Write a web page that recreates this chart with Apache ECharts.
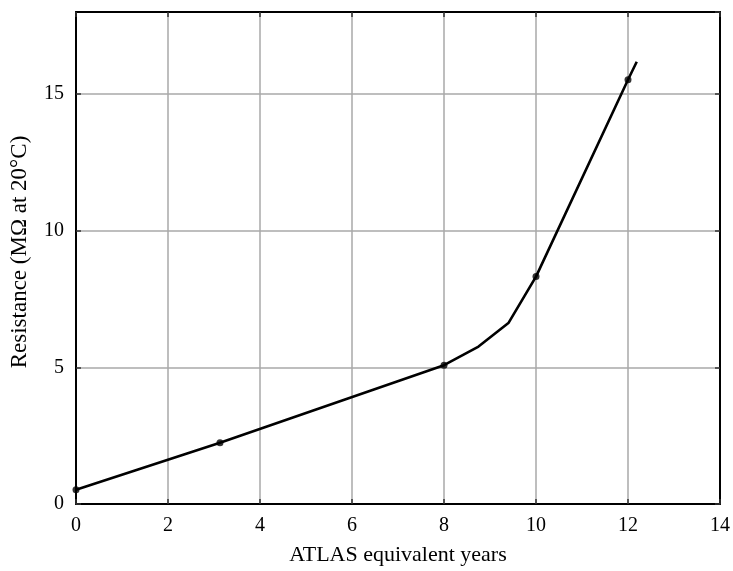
<!DOCTYPE html>
<html>
<head>
<meta charset="utf-8">
<script src="https://cdn.jsdelivr.net/npm/echarts@6/dist/echarts.min.js"></script>
<style>
  html, body { margin: 0; padding: 0; background: #fff; }
  #chart { width: 733px; height: 571px; }
</style>
</head>
<body>
<div id="chart"></div>
<script>
// Resistance curve (MΩ at 20°C) against ATLAS equivalent years
const curveYears = [0, 3.13, 8, 8.75, 9.4, 10, 12, 12.19];
const curveResistance = [0.52, 2.24, 5.08, 5.76, 6.62, 8.32, 15.52, 16.18];

// Measured points shown as dots
const pointYears = [0, 3.13, 8, 10, 12];
const pointResistance = [0.52, 2.24, 5.08, 8.32, 15.52];

const xTicks = [0, 2, 4, 6, 8, 10, 12, 14];
const yTicks = [0, 5, 10, 15];

const serif = '"Liberation Serif", "DejaVu Serif", serif';

const chart = echarts.init(document.getElementById('chart'), null, { renderer: 'canvas' });

// Top and right axes only close the frame and carry inward ticks
const frameAxis = {
  axisLine: { show: true, onZero: false, lineStyle: { color: '#000', width: 2 } },
  axisTick: { show: true, inside: true, length: 5, lineStyle: { color: '#333', width: 1.5 } },
  splitLine: { show: false },
  axisLabel: { show: false }
};

chart.setOption({
  animation: false,
  backgroundColor: '#fff',
  grid: { left: 76, right: 13, top: 12, bottom: 63, containLabel: false },
  xAxis: [
    {
      type: 'value', position: 'bottom', min: 0, max: 14, interval: 2,
      name: 'ATLAS equivalent years', nameLocation: 'middle', nameGap: 40,
      nameTextStyle: { fontFamily: serif, fontSize: 22, color: '#000' },
      axisLine: { show: true, onZero: false, lineStyle: { color: '#000', width: 2 } },
      axisTick: { show: true, inside: true, length: 5, lineStyle: { color: '#333', width: 1.5 } },
      splitLine: { show: true, lineStyle: { color: '#a8a8a8', width: 1.5 } },
      axisLabel: {
        margin: 12, fontFamily: serif, fontSize: 20, color: '#000',
        formatter: v => xTicks.includes(v) ? String(v) : ''
      }
    },
    Object.assign({ type: 'value', position: 'top', min: 0, max: 14, interval: 2 }, frameAxis)
  ],
  yAxis: [
    {
      type: 'value', position: 'left', min: 0, max: 18, interval: 5,
      name: 'Resistance (MΩ at 20°C)', nameLocation: 'middle', nameGap: 45, nameRotate: 90,
      nameTextStyle: { fontFamily: serif, fontSize: 23, color: '#000', padding: [0, 0, 0, 12] },
      axisLine: { show: true, onZero: false, lineStyle: { color: '#000', width: 2 } },
      axisTick: { show: true, inside: true, length: 5, lineStyle: { color: '#333', width: 1.5 } },
      splitLine: { show: true, lineStyle: { color: '#a8a8a8', width: 1.5 } },
      axisLabel: {
        margin: 12, fontFamily: serif, fontSize: 20, color: '#000',
        showMaxLabel: false,
        formatter: v => yTicks.includes(v) ? String(v) : ''
      }
    },
    Object.assign({ type: 'value', position: 'right', min: 0, max: 18, interval: 5 }, frameAxis)
  ],
  series: [
    {
      type: 'line',
      data: curveYears.map((x, i) => [x, curveResistance[i]]),
      showSymbol: false,
      lineStyle: { color: '#000', width: 2.6 },
      z: 3
    },
    {
      type: 'scatter',
      data: pointYears.map((x, i) => [x, pointResistance[i]]),
      symbol: 'circle',
      symbolSize: 7,
      itemStyle: { color: '#000' },
      z: 4
    }
  ]
});
</script>
</body>
</html>
